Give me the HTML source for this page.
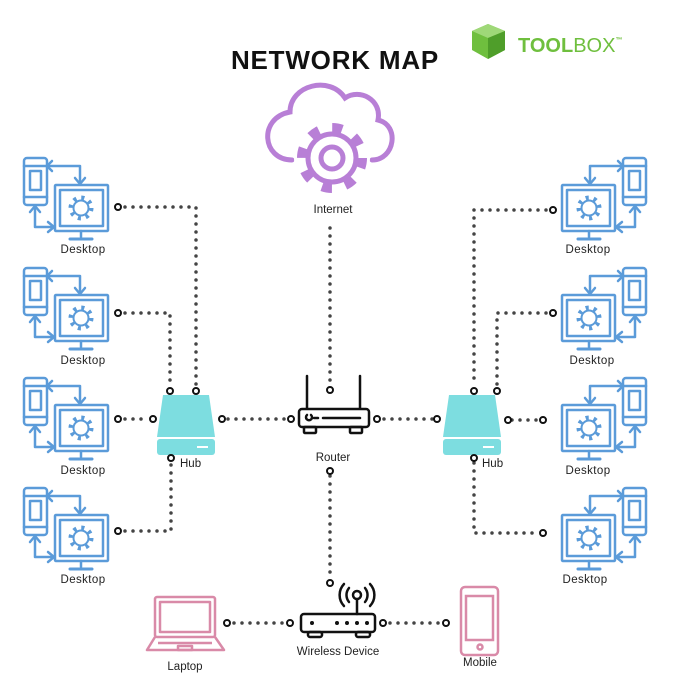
<!DOCTYPE html>
<html><head><meta charset="utf-8"><style>
html,body{margin:0;padding:0;background:#fff;}
svg{display:block;font-family:"Liberation Sans",sans-serif;}
</style></head><body>
<svg width="680" height="680" viewBox="0 0 680 680" xmlns="http://www.w3.org/2000/svg">
<defs>
<g id="desk" fill="none" stroke="#5b9bd9" stroke-width="2.5" stroke-linejoin="round" stroke-linecap="round">
  <rect x="24" y="158" width="23" height="47" rx="3"/>
  <line x1="24" y1="166" x2="47" y2="166"/>
  <line x1="24" y1="197" x2="47" y2="197"/>
  <rect x="30" y="171" width="11" height="19"/>
  <rect x="55" y="185" width="53" height="46" rx="1"/>
  <rect x="60" y="190" width="43" height="36"/>
  <circle cx="81" cy="208" r="10" stroke-width="5" stroke-dasharray="3 4.85" stroke-linecap="butt"/>
  <circle cx="81" cy="208" r="7.5" fill="#fff" stroke-width="2"/>
  <line x1="81" y1="231" x2="81" y2="237"/>
  <line x1="70" y1="239" x2="92" y2="239" stroke-width="3"/>
  <polyline points="48,166 80,166 80,183"/>
  <polyline points="75,178 80,184 85,178"/>
  <polyline points="52,161 47,166 52,171"/>
  <polyline points="35,207 35,227 54,227"/>
  <polyline points="48,222 54,227 48,232"/>
  <polyline points="30,212 35,206 40,212"/>
</g>
<g id="hub">
  <path d="M6,0 H52 L58,42 H0 Z" fill="#7ddde0" />
  <rect x="0" y="44" width="58" height="16" rx="3" fill="#7ddde0"/>
  <line x1="40" y1="52" x2="51" y2="52" stroke="#fff" stroke-width="2"/>
</g>
</defs>

<text x="335" y="69" text-anchor="middle" font-size="26" font-weight="bold" letter-spacing="0.8" fill="#111">NETWORK MAP</text>
<g>
  <path d="M488,24 L505,31 L505,50 L488,59 L472,50 L472,31 Z" fill="#6fbf3e"/>
  <path d="M472,31 L488,38 L505,31 L488,24 Z" fill="#9fd878"/>
  <path d="M488,38 L488,59 L505,50 L505,31 Z" fill="#4f9e2a"/>
  <text x="518" y="52" font-size="20" font-weight="bold" fill="#6fbf3e">TOOL<tspan font-weight="normal">BOX</tspan><tspan font-size="7" dy="-10">™</tspan></text>
</g>

<!-- internet cloud -->
<g fill="none" stroke="#b87fd6" stroke-width="5" stroke-linecap="round">
  <path d="M292,160 C262,160 258,118 290,112 C290,85 330,75 345,98 C360,88 382,100 378,120 C400,125 395,160 372,160"/>
  <circle cx="332" cy="158" r="33" stroke="#fff" stroke-width="10" fill="#fff"/>
  <circle cx="332" cy="158" r="30" stroke-width="10" stroke-dasharray="10 13.56" stroke-linecap="butt"/>
  <circle cx="332" cy="158" r="24" fill="#fff" stroke-width="5"/>
  <circle cx="332" cy="158" r="11" stroke-width="5"/>
</g>
<text x="333" y="213" text-anchor="middle" font-size="11.5" fill="#222">Internet</text>

<use href="#desk"/>
<use href="#desk" y="110"/>
<use href="#desk" y="220"/>
<use href="#desk" y="330"/>
<g transform="translate(670,0) scale(-1,1)">
<use href="#desk"/>
<use href="#desk" y="110"/>
<use href="#desk" y="220"/>
<use href="#desk" y="330"/>
</g>
<g font-size="11.5" fill="#222" text-anchor="middle" letter-spacing="0.4">
<text x="83" y="253">Desktop</text>
<text x="83" y="364">Desktop</text>
<text x="83" y="474">Desktop</text>
<text x="83" y="583">Desktop</text>
<text x="588" y="253">Desktop</text>
<text x="592" y="364">Desktop</text>
<text x="588" y="474">Desktop</text>
<text x="585" y="583">Desktop</text>
</g>

<use href="#hub" x="157" y="395"/>
<use href="#hub" x="443" y="395"/>
<text x="180" y="467" font-size="11.5" fill="#222">Hub</text>
<text x="482" y="467" font-size="11.5" fill="#222">Hub</text>

<g fill="none" stroke="#111" stroke-width="2.5" stroke-linecap="round">
  <line x1="307" y1="408" x2="307" y2="376"/>
  <line x1="360" y1="408" x2="360" y2="376"/>
  <rect x="299" y="409" width="70" height="18" rx="3"/>
  <line x1="314" y1="418" x2="318" y2="418"/>
  <line x1="323" y1="418" x2="360" y2="418"/>
  <rect x="304" y="427" width="12" height="6" rx="1"/>
  <rect x="350" y="427" width="12" height="6" rx="1"/>
  <path d="M307,415 a3,3 0 1 0 4,0"/>
</g>
<text x="333" y="461" text-anchor="middle" font-size="11.5" fill="#222">Router</text>

<g fill="none" stroke="#111" stroke-width="2.5" stroke-linecap="round">
  <rect x="301" y="614" width="74" height="18" rx="3"/>
  <rect x="308" y="632" width="14" height="5" rx="2"/>
  <rect x="356" y="632" width="14" height="5" rx="2"/>
  <line x1="357" y1="614" x2="357" y2="600"/>
  <circle cx="357" cy="595" r="4"/>
  <path d="M349,588 a11,11 0 0 0 0,14 M365,588 a11,11 0 0 1 0,14"/>
  <path d="M344,584 a16,16 0 0 0 0,22 M370,584 a16,16 0 0 1 0,22"/>
</g>
<g fill="#111"><circle cx="312" cy="623" r="2"/><circle cx="337" cy="623" r="2"/><circle cx="347" cy="623" r="2"/><circle cx="357" cy="623" r="2"/><circle cx="367" cy="623" r="2"/></g>
<text x="338" y="655" text-anchor="middle" font-size="11.5" fill="#222">Wireless Device</text>

<g fill="none" stroke="#d98aa8" stroke-width="2.5" stroke-linejoin="round">
  <rect x="155" y="597" width="60" height="40" rx="2"/>
  <rect x="160" y="602" width="50" height="30"/>
  <path d="M155,637 L147,650 H224 L215,637"/>
  <line x1="158" y1="643" x2="212" y2="643"/>
  <rect x="178" y="646" width="14" height="4"/>
</g>
<text x="185" y="670" text-anchor="middle" font-size="11.5" fill="#222">Laptop</text>
<g fill="none" stroke="#d98aa8" stroke-width="2.5">
  <rect x="461" y="587" width="37" height="68" rx="4"/>
  <rect x="466" y="596" width="27" height="44"/>
  <circle cx="480" cy="647" r="2.5"/>
</g>
<text x="480" y="666" text-anchor="middle" font-size="11.5" fill="#222">Mobile</text>

<g fill="none" stroke="#444" stroke-width="3.5" stroke-linecap="round" stroke-dasharray="0 8">
  <path d="M125,207 H196 V386"/>
  <path d="M125,313 H170 V386"/>
  <path d="M125,419 H148"/>
  <path d="M125,531 H171 V463"/>
  <path d="M228,419 H292"/>
  <path d="M330,228 V384"/>
  <path d="M330,476 V578"/>
  <path d="M376,419 H438"/>
  <path d="M546,210 H474 V386"/>
  <path d="M546,313 H497 V386"/>
  <path d="M512,420 H538"/>
  <path d="M474,463 V533 H538"/>
  <path d="M234,623 H284"/>
  <path d="M390,623 H440"/>
</g>
<g fill="#fff" stroke="#111" stroke-width="2">
  <circle cx="118" cy="207" r="3"/><circle cx="118" cy="313" r="3"/><circle cx="118" cy="419" r="3"/><circle cx="118" cy="531" r="3"/>
  <circle cx="196" cy="391" r="3"/><circle cx="170" cy="391" r="3"/><circle cx="153" cy="419" r="3"/><circle cx="222" cy="419" r="3"/><circle cx="171" cy="458" r="3"/>
  <circle cx="291" cy="419" r="3"/><circle cx="377" cy="419" r="3"/><circle cx="330" cy="390" r="3"/><circle cx="330" cy="471" r="3"/>
  <circle cx="437" cy="419" r="3"/><circle cx="508" cy="420" r="3"/><circle cx="474" cy="391" r="3"/><circle cx="497" cy="391" r="3"/><circle cx="474" cy="458" r="3"/>
  <circle cx="553" cy="210" r="3"/><circle cx="553" cy="313" r="3"/><circle cx="543" cy="420" r="3"/><circle cx="543" cy="533" r="3"/>
  <circle cx="330" cy="583" r="3"/>
  <circle cx="227" cy="623" r="3"/><circle cx="290" cy="623" r="3"/><circle cx="383" cy="623" r="3"/><circle cx="446" cy="623" r="3"/>
</g>
</svg>
</body></html>
